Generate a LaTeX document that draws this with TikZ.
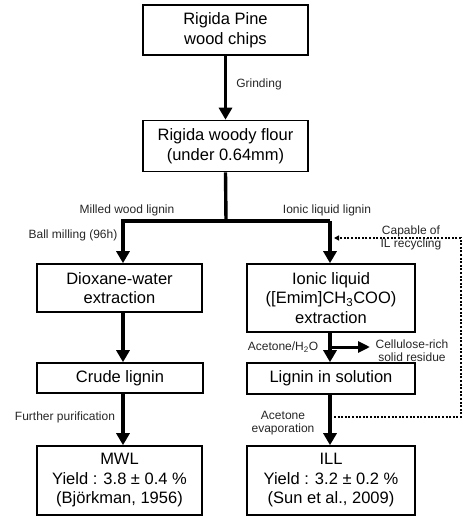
\documentclass[tikz,border=0pt]{standalone}
\usepackage{fontspec}
\setmainfont{Liberation Sans}
\usetikzlibrary{arrows.meta}
\begin{document}
\begin{tikzpicture}[x=1pt,y=-1pt,
 box/.style={draw, line width=1.6pt, align=center, font=\fontsize{16.5}{19.5}\selectfont, inner sep=0pt},
 lbl/.style={font=\fontsize{12}{12.8}\selectfont, align=center, text=black!85},
 flow/.style={line width=3.4pt, line join=miter, -{Triangle[length=12pt,width=13pt]}},
 side/.style={line width=3pt, -{Triangle[length=12pt,width=11pt]}},
 dotline/.style={line width=2pt, dash pattern=on 2pt off 1.6pt, -{Triangle[length=5pt,width=5pt]}}
]
\useasboundingbox (0,0) rectangle (463,518);

\node[box, minimum width=165pt, minimum height=50pt] (b1) at (225.5,30) {Rigida Pine\\wood chips};
\node[box, minimum width=165pt, minimum height=51pt] (b2) at (225.5,146) {Rigida woody flour\\(under 0.64mm)};
\node[box, minimum width=165pt, minimum height=48pt] (dio) at (119.5,288) {Dioxane-water\\extraction};
\node[box, minimum width=168pt, minimum height=68pt] (ion) at (331,298) {Ionic liquid\\([Emim]CH\textsubscript{3}COO)\\extraction};
\node[box, minimum width=166pt, minimum height=30pt] (crude) at (120,378) {Crude lignin};
\node[box, minimum width=168pt, minimum height=31pt] (sol) at (331,378.5) {Lignin in solution};
\node[box, minimum width=165pt, minimum height=69pt] (mwl) at (119.5,480.5) {MWL\\Yield : 3.8 ± 0.4 \%\\(Björkman, 1956)};
\node[box, minimum width=168pt, minimum height=69pt] (ill) at (331,480.5) {ILL\\Yield : 3.2 ± 0.2 \%\\(Sun et al., 2009)};

\coordinate (j) at (226,221);
\coordinate (jl) at (123,221);
\coordinate (jr) at (330,221);
\coordinate (cr) at (370,347);
\coordinate (dtop) at (461,238);
\coordinate (dbot) at (461,417);
\coordinate (dtip) at (334,238);
\coordinate (dstart) at (334,417);

\draw[flow] (b1) -- (b2);
\draw[line width=3.4pt] (b2.south) -- (j);
\draw[flow] (jr) -- (jl) -- (jl |- dio.north);
\draw[flow] (jr |- j) -- (jr |- ion.north);
\draw[line width=3.4pt] (jr) -- (j);
\draw[flow] (jl |- dio.south) -- (jl |- crude.north);
\draw[flow] (jl |- crude.south) -- (jl |- mwl.north);
\draw[flow] (jr |- ion.south) -- (jr |- sol.north);
\draw[flow] (jr |- sol.south) -- (jr |- ill.north);
\draw[side] (jr |- cr) -- (cr);
\draw[dotline] (dstart) -- (dbot) -- (dtop) -- (dtip);

\node[lbl] (lg) at (259,84) {Grinding};
\node[lbl] (lm) at (127,210) {Milled wood lignin};
\node[lbl] (li) at (327,210) {Ionic liquid lignin};
\node[lbl] (lb) at (73,235) {Ball milling (96h)};
\node[lbl] (lc) at (411,237.5) {Capable of\\IL recycling};
\node[lbl] (lf) at (65,417) {Further purification};
\node[lbl] (la) at (283,347) {Acetone/H\textsubscript{2}O};
\node[lbl] (lr) at (412,350.5) {Cellulose-rich\\solid residue};
\node[lbl] (le) at (283,423) {Acetone\\evaporation};
\end{tikzpicture}
\end{document}
